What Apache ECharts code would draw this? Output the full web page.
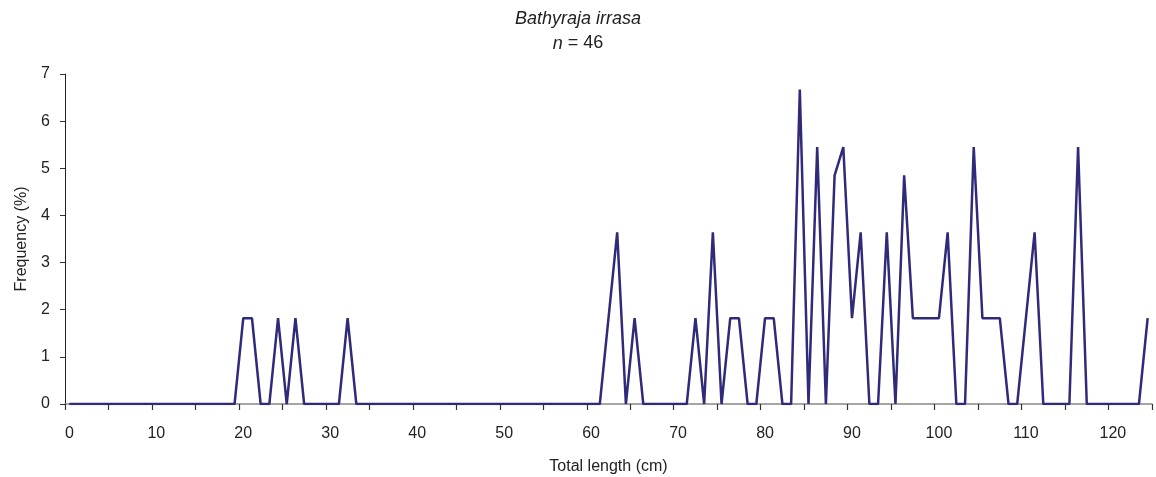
<!DOCTYPE html>
<html>
<head>
<meta charset="utf-8">
<script src="https://cdn.jsdelivr.net/npm/echarts@6/dist/echarts.min.js"></script>
<style>
    html,body{margin:0;padding:0;background:#fff;}
    #chart{width:1156px;height:477px;}
</style>
</head>
<body>
<div id="chart"></div>
<script>
// total length classes, 0..124 cm
let lengths=[];
for(let i=0;i<=124;i++){lengths.push(i);}

// frequency (%), only non-zero classes listed
let nonZeroCm=[20,21,24,26,32,62,63,65,72,74,76,77,80,81,84,86,88,89,90,91,94,96,97,98,99,100,101,104,105,106,107,110,111,116,124];
let nonZeroPct=[1.82,1.82,1.82,1.82,1.82,1.82,3.64,1.82,1.82,3.64,1.82,1.82,1.82,1.82,6.67,5.45,4.85,5.45,1.82,3.64,3.64,4.85,1.82,1.82,1.82,1.82,3.64,5.45,1.82,1.82,1.82,1.82,3.64,5.45,1.82];

let titleText='Bathyraja irrasa';
let sampleSize=46;

let freq=lengths.map((cm)=>{
    let k=nonZeroCm.indexOf(cm);
    return k>=0?nonZeroPct[k]:0;
});

let font='"Liberation Sans", Arial, sans-serif';
let myChart=echarts.init(document.getElementById('chart'));

let option={
    animation:false,
    backgroundColor:'#fff',
    title:{
        text:'{it|'+titleText+'}\n{it|n} {rm|= '+sampleSize+'}',
        left:'center',
        top:1,
        textStyle:{
            rich:{
                it:{fontFamily:font,fontStyle:'italic',fontWeight:'normal',fontSize:18,color:'#222',lineHeight:25},
                rm:{fontFamily:font,fontWeight:'normal',fontSize:18,color:'#222',lineHeight:25},
            },
        },
    },
    grid:{
        left:65,
        right:4,
        top:74,
        bottom:73,
        outerBoundsMode:'none',
        containLabel:false,
    },
    xAxis:{
        type:'category',
        data:lengths,
        boundaryGap:true,
        name:'Total length (cm)',
        nameLocation:'middle',
        nameGap:55,
        nameTextStyle:{fontFamily:font,fontSize:16,color:'#222'},
        axisLine:{lineStyle:{color:'#888',width:1.5}},
        axisTick:{show:true,interval:4,length:6,lineStyle:{color:'#333',width:1.2}},
        axisLabel:{interval:9,margin:22,fontFamily:font,fontSize:16,color:'#222'},
        splitLine:{show:false},
    },
    yAxis:{
        type:'value',
        min:0,
        max:7,
        interval:1,
        name:'Frequency (%)',
        nameLocation:'middle',
        nameGap:35,
        nameTextStyle:{fontFamily:font,fontSize:16,color:'#222'},
        axisLine:{show:true,lineStyle:{color:'#222',width:1}},
        axisTick:{show:true,length:5,lineStyle:{color:'#333'}},
        axisLabel:{margin:15,fontFamily:font,fontSize:16,color:'#222'},
        splitLine:{show:false},
    },
    series:[
        {
            name:'Frequency',
            type:'line',
            data:freq,
            symbol:'none',
            lineStyle:{color:'#2f2b7a',width:2.5},
        }
    ]
};

myChart.setOption(option);
</script>
</body>
</html>
